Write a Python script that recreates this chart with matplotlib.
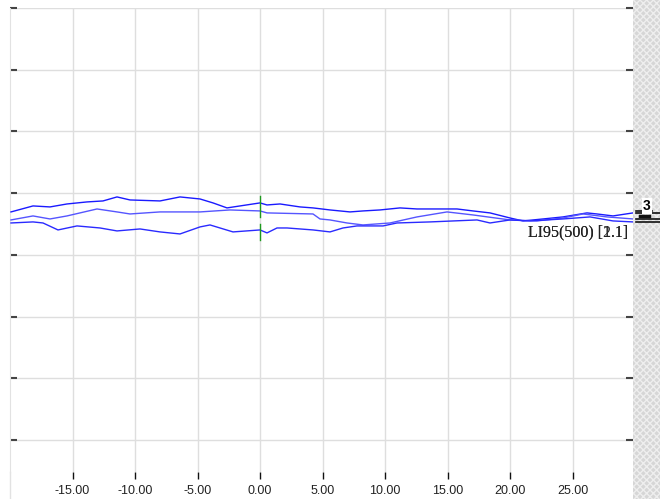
import matplotlib
matplotlib.use('Agg')
from matplotlib import pyplot as plt
from matplotlib import transforms as mtransforms
from matplotlib.patches import Rectangle

# three traces of LI95(500), time offset vs level
top_x = [-19.92, -18.16, -16.8, -15.44, -13.84, -12.56, -11.44, -10.4, -8.0, -6.4, -4.8, -3.76, -2.64, -1.6,
         0.0, 0.56, 1.6, 3.2, 4.24, 5.6, 7.2, 8.24, 9.6, 11.2, 12.56, 14.4, 15.76, 17.04, 18.4, 20.0,
         21.04, 22.64, 24.24, 26.16, 26.96, 28.24, 29.84]
top_y = [3.695, 3.792, 3.776, 3.824, 3.857, 3.873, 3.938, 3.889, 3.873, 3.938, 3.905, 3.841, 3.760, 3.792,
         3.841, 3.808, 3.824, 3.776, 3.760, 3.727, 3.695, 3.711, 3.727, 3.760, 3.743, 3.743, 3.743, 3.711,
         3.679, 3.597, 3.549, 3.581, 3.614, 3.679, 3.662, 3.630, 3.679]

mid_x = [-19.92, -18.16, -16.8, -15.44, -13.04, -11.44, -10.4, -8.0, -4.8, -2.4, 0.0, 0.56, 4.24, 4.8,
         5.6, 6.96, 8.24, 10.4, 12.56, 14.96, 17.04, 20.0, 22.16, 24.24, 25.84, 27.76, 29.84]
mid_y = [3.565, 3.630, 3.581, 3.630, 3.743, 3.695, 3.662, 3.695, 3.695, 3.727, 3.711, 3.679, 3.662, 3.581,
         3.565, 3.516, 3.484, 3.516, 3.614, 3.695, 3.646, 3.565, 3.549, 3.597, 3.662, 3.614, 3.581]

bot_x = [-19.92, -18.16, -17.36, -16.16, -14.64, -12.8, -11.44, -9.6, -8.0, -6.4, -4.8, -4.0, -2.16,
         0.0, 0.56, 1.36, 2.16, 4.24, 5.6, 6.64, 7.76, 9.84, 10.96, 13.6, 17.36, 18.4, 20.0, 21.6,
         24.24, 26.4, 28.24, 29.84]
bot_y = [3.516, 3.533, 3.516, 3.403, 3.468, 3.435, 3.387, 3.419, 3.371, 3.338, 3.452, 3.484, 3.371,
         3.403, 3.355, 3.435, 3.435, 3.403, 3.371, 3.435, 3.468, 3.468, 3.516, 3.533, 3.565, 3.516,
         3.565, 3.549, 3.581, 3.614, 3.549, 3.533]

# event marker at zero
marker_x = 0.0
marker_segments = [(3.614, 3.954), (3.241, 3.500)]

x_ticks = [-15, -10, -5, 0, 5, 10, 15, 20, 25]
x_labels = ['-15.00', '-10.00', '-5.00', '0.00', '5.00', '10.00', '15.00', '20.00', '25.00']
y_ticks = [0, 1, 2, 3, 4, 5, 6, 7]
series_label = 'LI95(500) [{}.1]'
series_count = 3

W, H = 660, 499
fig = plt.figure(figsize=(W / 100, H / 100), dpi=100)
ax = fig.add_axes([10 / W, (H - 472) / H, 623 / W, (472 - 8) / H])

for xs, ys, c in [(top_x, top_y, '#1a1aff'), (mid_x, mid_y, '#5555ff'), (bot_x, bot_y, '#2a2aff')]:
    ax.plot(xs, ys, color=c, lw=1.0, zorder=3)

for lo, hi in marker_segments:
    ax.plot([marker_x, marker_x], [lo, hi], color='#1e9a1e', lw=1.0, zorder=4)

ax.set_xlim(-20, 29.84)
ax.set_ylim(-0.52, 7)
ax.set_xticks(x_ticks)
ax.set_xticklabels(x_labels, fontfamily='Liberation Sans', fontsize=9, color='#222222')
ax.set_yticks(y_ticks)
ax.set_yticklabels([])
ax.grid(True, color='#dedede', lw=1.0, zorder=0)
ax.tick_params(axis='x', direction='out', length=5, width=1, color='#111111', pad=4)
ax.tick_params(axis='y', direction='in', length=5, width=1.5, color='#444444', left=True, right=True)
for side in ['top', 'right', 'bottom']:
    ax.spines[side].set_visible(False)
ax.spines['left'].set_color('#e2e2e2')
# left border runs on down past the tick labels
fig.add_artist(plt.Line2D([10.5 / W, 10.5 / W], [0, (H - 472) / H], transform=fig.transFigure,
                          color='#e2e2e2', lw=1.0))

# level panel on the right
panel = mtransforms.blended_transform_factory(fig.transFigure, ax.transData)
fig.patches.append(Rectangle((633 / W, 0), 27 / W, 1, transform=fig.transFigure,
                             facecolor='#d6d6d6', edgecolor='#eeeeee', hatch='xxxxx', lw=0, zorder=0))
for ys in [top_y, mid_y, bot_y]:
    fig.add_artist(plt.Line2D([636 / W, 1.0], [ys[-1], ys[-1]], transform=panel, color='#111111', lw=1.2))
fig.add_artist(plt.Line2D([640 / W, 649 / W], [3.63, 3.63], transform=panel, color='#111111', lw=2.5))
fig.text(647 / W, 3.79, str(series_count), transform=panel, ha='center', va='center',
         fontsize=10, fontweight='bold', fontfamily='Liberation Sans',
         bbox=dict(boxstyle='square,pad=0.1', facecolor='white', edgecolor='none'))
fig.add_artist(plt.Line2D([636 / W, 652 / W], [3.71, 3.71], transform=panel, color='#111111', lw=1.2))

# overlapping labels of the stacked traces
label_tr = mtransforms.blended_transform_factory(ax.transAxes, ax.transData)
for k in [1, 2]:
    ax.text((628 - 10) / 623, 3.37, series_label.format(k), transform=label_tr,
            ha='right', va='center', fontsize=11.5, fontfamily='Liberation Serif', color='#222222', zorder=5)

fig.savefig('out.png', dpi=100)
